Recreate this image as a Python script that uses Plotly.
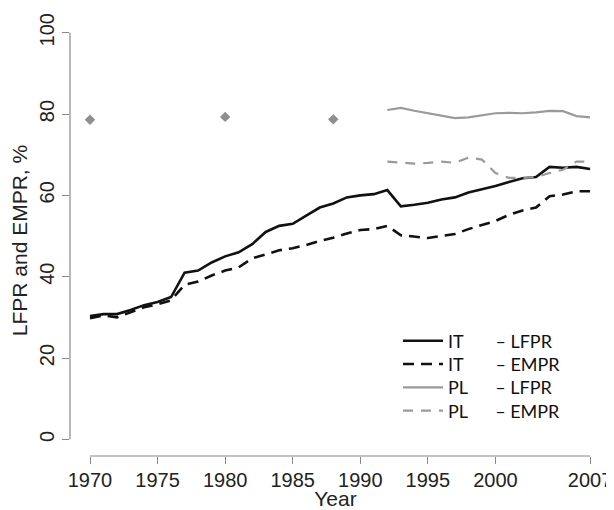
import plotly.graph_objects as go

years = list(range(1970, 2008))
it_lfpr = [30.3, 30.8, 30.8, 31.8, 33.0, 33.8, 35.0, 41.0, 41.5, 43.5, 45.0, 46.0, 48.0, 51.0, 52.5, 53.0,
           55.0, 57.0, 58.0, 59.5, 60.0, 60.3, 61.3, 57.3, 57.7, 58.2, 59.0, 59.5, 60.7, 61.5, 62.3, 63.3,
           64.2, 64.5, 67.0, 66.8, 67.0, 66.5]
it_empr = [29.8, 30.5, 30.0, 31.3, 32.5, 33.2, 34.2, 38.0, 38.8, 40.3, 41.5, 42.3, 44.5, 45.5, 46.5, 47.0,
           47.8, 48.8, 49.6, 50.6, 51.5, 51.7, 52.5, 50.2, 49.8, 49.5, 50.0, 50.5, 51.7, 52.7, 53.7, 55.2,
           56.3, 57.0, 59.8, 60.2, 61.0, 61.0]
pl_years = list(range(1992, 2008))
pl_lfpr = [81.0, 81.5, 80.8, 80.2, 79.7, 79.0, 79.2, 79.7, 80.2, 80.3, 80.2, 80.4, 80.8, 80.7, 79.5, 79.2]
pl_empr = [68.3, 68.0, 67.8, 68.0, 68.3, 68.0, 69.3, 68.8, 65.5, 64.3, 64.3, 64.5, 65.5, 66.3, 68.3, 68.3]
pl_pt_years = [1970, 1980, 1988]
pl_pt_lfpr = [78.6, 79.3, 78.7]

x_ticks = [1970, 1975, 1980, 1985, 1990, 1995, 2000, 2007]
y_ticks = [0, 20, 40, 60, 80, 100]

NB = "\u00a0"
names = ["IT" + NB * 7 + "– LFPR", "IT" + NB * 7 + "– EMPR",
         "PL" + NB * 6 + "– LFPR", "PL" + NB * 6 + "– EMPR"]
legend_rows = [0.2668, 0.2128, 0.1585, 0.1044]

fig = go.Figure()
fig.add_trace(go.Scatter(x=years, y=it_lfpr, mode="lines", name=names[0], legend="legend",
                         line=dict(color="#111111", width=2.6)))
fig.add_trace(go.Scatter(x=years, y=it_empr, mode="lines", name=names[1], legend="legend2",
                         line=dict(color="#111111", width=2.6, dash="11px,7px")))
fig.add_trace(go.Scatter(x=pl_years, y=pl_lfpr, mode="lines", name=names[2], legend="legend3",
                         line=dict(color="#9a9a9a", width=2.2)))
fig.add_trace(go.Scatter(x=pl_years, y=pl_empr, mode="lines", name=names[3], legend="legend4",
                         line=dict(color="#9a9a9a", width=2.2, dash="10px,8px")))
fig.add_trace(go.Scatter(x=pl_pt_years, y=pl_pt_lfpr, mode="markers", showlegend=False,
                         marker=dict(symbol="diamond", size=8, color="#8f8f8f")))

fig.add_shape(type="line", xref="x", yref="paper", x0=1970, x1=2007, y0=0, y1=0,
              line=dict(color="#888888", width=1.2))
fig.add_shape(type="line", xref="paper", yref="y", x0=0, x1=0, y0=0, y1=100,
              line=dict(color="#888888", width=1.2))

leg_common = dict(x=0.6177, xanchor="left", yanchor="middle", bgcolor="rgba(0,0,0,0)",
                  font=dict(family="Lato, sans-serif", size=18, color="#111111"),
                  itemwidth=40)

fig.update_layout(
    width=606, height=502,
    margin=dict(l=62, r=13, t=17, b=54),
    paper_bgcolor="white", plot_bgcolor="white",
    font=dict(family="Liberation Sans, Arial, sans-serif", size=21, color="#222222"),
    showlegend=True,
    legend=dict(y=legend_rows[0], **leg_common),
    legend2=dict(y=legend_rows[1], **leg_common),
    legend3=dict(y=legend_rows[2], **leg_common),
    legend4=dict(y=legend_rows[3], **leg_common),
    xaxis=dict(range=[1968.52, 2007.81], tickvals=x_ticks, ticktext=[str(v) for v in x_ticks],
               ticks="outside", ticklen=7, tickcolor="#888888", showline=False, showgrid=False,
               zeroline=False, automargin=False, ticklabelstandoff=-1,
               title=dict(text="Year", standoff=4, font=dict(size=21)),
               tickfont=dict(size=20)),
    yaxis=dict(range=[-4.1, 101.9], tickvals=y_ticks, ticktext=[str(v) for v in y_ticks],
               ticks="outside", ticklen=7, tickcolor="#888888", showline=False, showgrid=False,
               zeroline=False, tickangle=-90, automargin=False,
               title=dict(text="LFPR and EMPR, %", standoff=3, font=dict(size=21)),
               tickfont=dict(size=20)),
)

fig.write_html("out.html")
